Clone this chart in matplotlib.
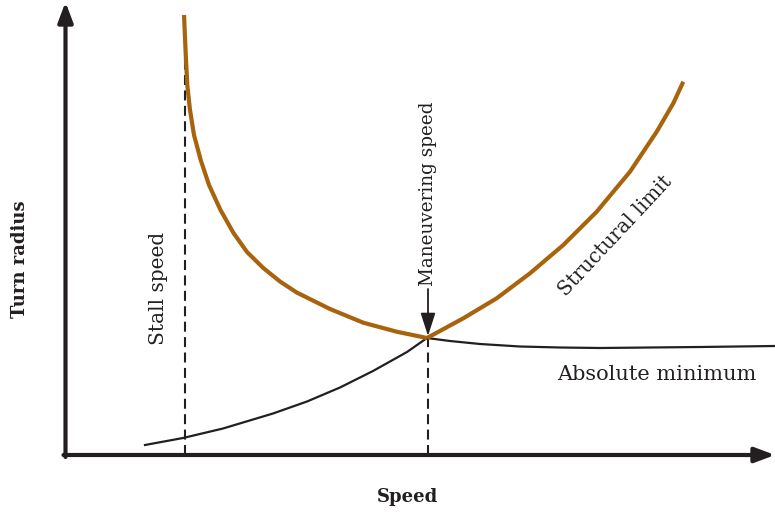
import numpy as np
import matplotlib
matplotlib.use("Agg")
import matplotlib.pyplot as plt

# ---------------- data (speed, turn radius), arbitrary units ----------------
# stall-limited side of the turn radius curve (orange, left branch)
stall_side_x = [118.5, 120.5, 121.8, 124.5, 128.5, 135.2, 143.5, 155.0, 168.0,
                181.5, 197.8, 214.5, 231.2, 264.5, 297.8, 331.2, 361.5]
stall_side_r = [440, 395, 370, 345, 320, 295, 270, 245, 222,
                203, 187, 173.5, 162.5, 146, 132.3, 123.3, 117]
# structural limit (orange, right branch)
struct_x = [361.5, 397.8, 431.2, 464.5, 497.8, 531.2, 564.5, 591.2, 607.8, 617.8]
struct_r = [117, 136.7, 156.7, 181.7, 210, 243.3, 283.3, 323.3, 351.7, 373.3]

# absolute minimum (black)
absmin_x = [79.5, 117.5, 157.5, 207.5, 241.5, 274.5, 307.5, 341.5, 361.5,
            384.5, 414.5, 454.5, 494.5, 534.5, 584.5, 634.5, 709.5]
absmin_r = [10, 17, 26.5, 41.5, 53.5, 67.5, 84, 103, 117,
            114, 111, 108.5, 107.5, 107, 107.5, 108, 109]

stall_v = 119.5
maneuver_v = 362.5
x_max, y_max = 709.5, 455

orange = "#A8630D"
ink = "#231F20"

plt.rcParams["font.family"] = ["DejaVu Serif"]

fig = plt.figure(figsize=(7.75, 5.13), dpi=100)
ax = fig.add_axes([0, 0, 1, 1])
ax.set_xlim(-65.5, x_max)
ax.set_ylim(-58, y_max)
ax.axis("off")

# axes with arrow heads
ax.annotate("", xy=(x_max, 0), xytext=(-2, 0),
            arrowprops=dict(arrowstyle="-|>,head_length=1.2,head_width=0.45",
                            lw=3, color=ink, shrinkA=0, shrinkB=0))
ax.annotate("", xy=(0, y_max - 2), xytext=(0, -2),
            arrowprops=dict(arrowstyle="-|>,head_length=1.2,head_width=0.45",
                            lw=3, color=ink, shrinkA=0, shrinkB=0))

# dashed guide lines
ax.plot([stall_v, stall_v], [0, 440], ls=(0, (4.8, 2.6)), lw=1.5, color=ink)
ax.plot([maneuver_v, maneuver_v], [0, 117], ls=(0, (4.8, 2.6)), lw=1.5, color=ink)

# curves
ax.plot(absmin_x, absmin_r, color=ink, lw=1.6, solid_joinstyle="round")
ax.plot(stall_side_x, stall_side_r, color=orange, lw=3, solid_capstyle="butt",
        solid_joinstyle="round")
ax.plot(struct_x, struct_r, color=orange, lw=3, solid_capstyle="butt",
        solid_joinstyle="round")

# maneuvering speed arrow + label
ax.annotate("", xy=(maneuver_v, 119), xytext=(maneuver_v, 166),
            arrowprops=dict(arrowstyle="-|>,head_length=1.4,head_width=0.45",
                            lw=1.3, color=ink, shrinkA=0, shrinkB=0))
ax.text(maneuver_v, 169, "Maneuvering speed", rotation=90, ha="center", va="bottom",
        fontsize=13.2, color=ink)

ax.text(92.5, 167, "Stall speed", rotation=90, ha="center", va="center",
        fontsize=14.5, color=ink)
ax.text(550, 219, "Structural limit", rotation=47, ha="center", va="center",
        fontsize=14.3, color=ink, rotation_mode="anchor")
ax.text(591.5, 81, "Absolute minimum", ha="center", va="center",
        fontsize=15, color=ink)

ax.text(-45.5, 196, "Turn radius", rotation=90, ha="center", va="center",
        fontsize=13, fontweight="bold", color=ink)
ax.text(342.5, -42, "Speed", ha="center", va="center",
        fontsize=13, fontweight="bold", color=ink)

fig.savefig("out.png", dpi=100)
